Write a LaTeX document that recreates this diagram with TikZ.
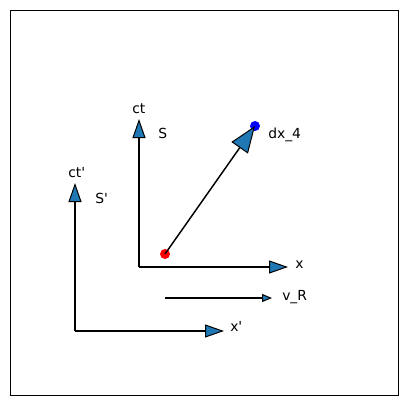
\documentclass[tikz,border=0pt]{standalone}
\usepackage{fontspec}
\setmainfont{DejaVu Sans}
\usetikzlibrary{arrows.meta}
\definecolor{headblue}{RGB}{31,119,180}
\tikzset{
  lbl/.style={anchor=base west, inner sep=0pt, font=\fontsize{10.4}{12}\selectfont},
  axisline/.style={line width=1.1pt, -{Triangle[length=14.25pt, width=9.75pt, fill=headblue, line width=0.75pt]}},
  velline/.style={line width=1.1pt, -{Triangle[length=7.5pt, width=6pt, fill=headblue, line width=0.75pt]}},
  fourvec/.style={line width=1.1pt, -{Triangle[length=20pt, width=15pt, fill=headblue, line width=0.75pt]}},
}

\begin{document}
\begin{tikzpicture}[x=0.75pt,y=0.75pt,yscale=-1,xscale=1]
\useasboundingbox (0,0) rectangle (407,405);
% frame
\draw [line width=0.75pt] (10,10) rectangle (398,395);

% frame S
\coordinate (OS) at (139,267);
\coordinate (ctS) at (139,119);
\coordinate (xS) at (288,267);
% frame S'
\coordinate (OSp) at (75,331);
\coordinate (ctSp) at (75,183);
\coordinate (xSp) at (224,331);
% velocity
\coordinate (vA) at (165,298);
\coordinate (vB) at (272,298);

% Text Node
\node [lbl] (lct) at (132,113) {ct};
% Text Node
\node [lbl] (lS) at (158,138) {S};
% Text Node
\node [lbl] (lx) at (295,268) {x};
% Text Node
\node [lbl] (lct2) at (68,177) {ct\textquotesingle};
% Text Node
\node [lbl] (lS2) at (95,203) {S\textquotesingle};
% Text Node
\node [lbl] (lx2) at (230,331) {x\textquotesingle};
% Text Node
\node [lbl] (lv) at (282,300) {v\_R};
% Text Node
\node [lbl] (ldx) at (268,138) {dx\_4};

% Connection
\draw [axisline] (OS) -- (ctS);
\draw [axisline] (OS) -- (xS);
\draw [axisline] (OSp) -- (ctSp);
\draw [axisline] (OSp) -- (xSp);
\draw [velline] (vA) -- (vB);

% event points
\node [circle, fill=red, inner sep=0pt, minimum size=7.5pt] (ev1) at (165,254) {};
\node [circle, fill=blue, inner sep=0pt, minimum size=7.5pt] (ev2) at (255,126) {};
% Connection
\draw [fourvec] (ev1.center) -- (ev2.center);

\end{tikzpicture}
\end{document}
